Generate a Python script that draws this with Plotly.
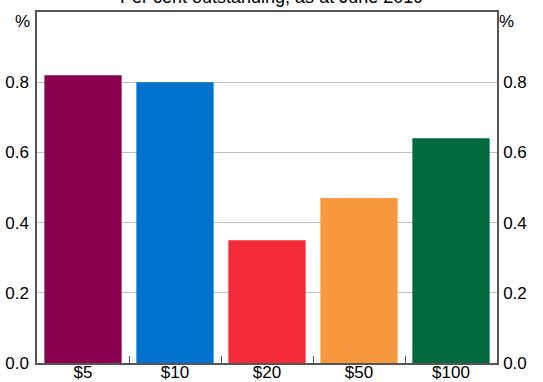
import plotly.graph_objects as go

categories = ["$5", "$10", "$20", "$50", "$100"]
values = [0.82, 0.80, 0.35, 0.47, 0.64]
colors = ["#8A004F", "#0072CE", "#F42A37", "#F7983E", "#00693E"]
tick_vals = [0.0, 0.2, 0.4, 0.6, 0.8]
title_text = "Per cent outstanding, as at June 2019"

fig = go.Figure()
fig.add_trace(go.Bar(x=categories, y=values, marker=dict(color=colors, line=dict(width=0)),
                     showlegend=False, hoverinfo="skip"))
# invisible trace for right axis
fig.add_trace(go.Scatter(x=categories, y=values, yaxis="y2", mode="markers",
                         marker=dict(opacity=0), showlegend=False, hoverinfo="skip"))

font = dict(family="Liberation Sans, Arial, sans-serif", size=17, color="#000")
fig.update_layout(
    width=543, height=382,
    margin=dict(l=37, r=46, t=12, b=19, autoexpand=False),
    paper_bgcolor="white", plot_bgcolor="white",
    bargap=0.16,
    font=font,
    xaxis=dict(type="category", showline=True, linecolor="#555", linewidth=1.5, mirror=True,
               ticks="inside", tickson="boundaries", ticklen=7, tickcolor="#555",
               tickfont=font, showgrid=False, automargin=False, ticklabelstandoff=-7),
    yaxis=dict(range=[0, 1.0], tickvals=tick_vals, tickformat=".1f", showgrid=True,
               gridcolor="#c0c0c0", gridwidth=1, showline=True, linecolor="#555", linewidth=1.5,
               ticks="", tickfont=font, zeroline=False, ticklabelstandoff=3, automargin=False),
    yaxis2=dict(range=[0, 1.0], tickvals=tick_vals, tickformat=".1f", overlaying="y", side="right",
                showgrid=False, showline=True, linecolor="#555", linewidth=1.5, ticks="",
                tickfont=font, zeroline=False, ticklabelstandoff=1, automargin=False),
)
fig.add_annotation(text="%", xref="paper", yref="paper", x=0, y=1, xanchor="right", yanchor="top",
                   xshift=-5, yshift=2, showarrow=False, font=font)
fig.add_annotation(text="%", xref="paper", yref="paper", x=1, y=1, xanchor="left", yanchor="top",
                   xshift=0, yshift=2, showarrow=False, font=font)
fig.add_annotation(text=title_text, xref="paper", yref="paper", x=0.51, y=1, xanchor="center",
                   yanchor="bottom", yshift=3, showarrow=False,
                   font=dict(family="Liberation Sans, Arial, sans-serif", size=18, color="#000"))

fig.write_html("out.html")
